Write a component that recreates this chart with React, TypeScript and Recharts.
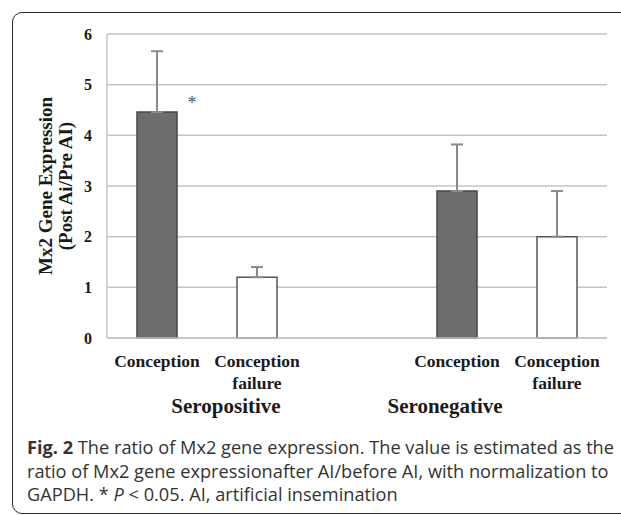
import React from 'react';
import { BarChart, Bar, XAxis, YAxis, CartesianGrid, ErrorBar, Cell, LabelList } from 'recharts';

const categories = ['Conception', 'Conception failure', '', 'Conception', 'Conception failure'];
const ratio = [4.46, 1.2, null, 2.9, 2.0];
const upperError = [1.2, 0.2, null, 0.92, 0.9];
const significance = ['*', '', '', '', ''];
const yTicks = [0, 1, 2, 3, 4, 5, 6];

const data = categories.map((name, i) => ({
  key: `c${i}`,
  name,
  ratio: ratio[i],
  err: upperError[i] == null ? null : [0, upperError[i]],
  sig: significance[i],
}));

const serif = '"Liberation Serif", "Times New Roman", serif';
const gridColor = '#c4c4c4';

const XTick = (props: any) => {
  const { x, y, payload } = props;
  const label = categories[payload.index] || '';
  const words = label.split(' ');
  return (
    <g>
      {words.map((w, i) => (
        <text
          key={i}
          x={x}
          y={y + 21 + i * 22}
          textAnchor="middle"
          fontFamily={serif}
          fontWeight="bold"
          fontSize={17.5}
          fill="#1a1a1a"
        >
          {w}
        </text>
      ))}
    </g>
  );
};

const YLabel = (props: any) => {
  const { viewBox } = props;
  const cy = viewBox.y + viewBox.height / 2;
  return (
    <g fontFamily={serif} fontWeight="bold" fontSize={19} fill="#1a1a1a" textAnchor="middle">
      <text x={52} y={cy} transform={`rotate(-90 52 ${cy})`}>Mx2 Gene Expression</text>
      <text x={72} y={cy} transform={`rotate(-90 72 ${cy})`}>(Post Ai/Pre AI)</text>
    </g>
  );
};

const SigLabel = (props: any) => {
  const { x, y, width, value } = props;
  if (!value) return null;
  return (
    <text x={x + width + 15} y={y - 3} textAnchor="middle" fontFamily={serif} fontSize={18} fill="#555">
      {value}
    </text>
  );
};

const groupStyle: React.CSSProperties = {
  position: 'absolute',
  top: 417,
  transform: 'translate(-50%, -100%)',
  fontFamily: serif,
  fontWeight: 'bold',
  fontSize: 21,
  color: '#1a1a1a',
  whiteSpace: 'nowrap',
  lineHeight: 1,
};

export default function App() {
  return (
    <div style={{ position: 'absolute', left: 0, top: 0, width: 621, height: 515, overflow: 'hidden', background: '#fff' }}>
      <div
        style={{
          position: 'absolute',
          left: 12,
          top: 12,
          width: 640,
          height: 500,
          border: '1.5px solid #2a2a2a',
          borderRadius: 10,
        }}
      />
      <div style={{ position: 'absolute', left: 0, top: 0 }}>
        <BarChart
          width={621}
          height={400}
          data={data}
          margin={{ top: 34, right: 14, bottom: 0, left: 0 }}
          barCategoryGap="30%"
        >
          <CartesianGrid horizontal vertical={false} stroke={gridColor} strokeWidth={1.5} />
          <XAxis
            dataKey="key"
            height={62}
            tick={<XTick />}
            tickLine={false}
            axisLine={{ stroke: gridColor, strokeWidth: 1.5 }}
            interval={0}
          />
          <YAxis
            width={107}
            domain={[0, 6]}
            ticks={yTicks}
            tickLine={false}
            tickSize={0}
            tickMargin={15}
            axisLine={{ stroke: gridColor, strokeWidth: 1.5 }}
            tick={{ fontFamily: serif, fontWeight: 'bold', fontSize: 16, fill: '#1a1a1a' }}
            label={<YLabel />}
          />
          <Bar dataKey="ratio" isAnimationActive={false} strokeWidth={1.5}>
            {data.map((d, i) => {
              const failure = d.name.includes('failure');
              return (
                <Cell key={i} fill={failure ? '#ffffff' : '#6d6d6d'} stroke={failure ? '#555555' : '#474747'} />
              );
            })}
            <ErrorBar dataKey="err" width={6} stroke="#8a8a8a" strokeWidth={2} direction="y" />
            <LabelList dataKey="sig" content={<SigLabel />} />
          </Bar>
        </BarChart>
      </div>
      <div style={{ ...groupStyle, left: 226 }}>Seropositive</div>
      <div style={{ ...groupStyle, left: 445 }}>Seronegative</div>
      <div
        style={{
          position: 'absolute',
          left: 27,
          top: 436,
          fontFamily: '"Open Sans", sans-serif',
          fontSize: 18.2,
          lineHeight: '23.5px',
          color: '#333',
          whiteSpace: 'nowrap',
        }}
      >
        <b>Fig. 2</b> The ratio of Mx2 gene expression. The value is estimated as the
        <br />
        ratio of Mx2 gene expressionafter AI/before AI, with normalization to
        <br />
        GAPDH. * <i>P</i> &lt; 0.05. AI, artificial insemination
      </div>
    </div>
  );
}
